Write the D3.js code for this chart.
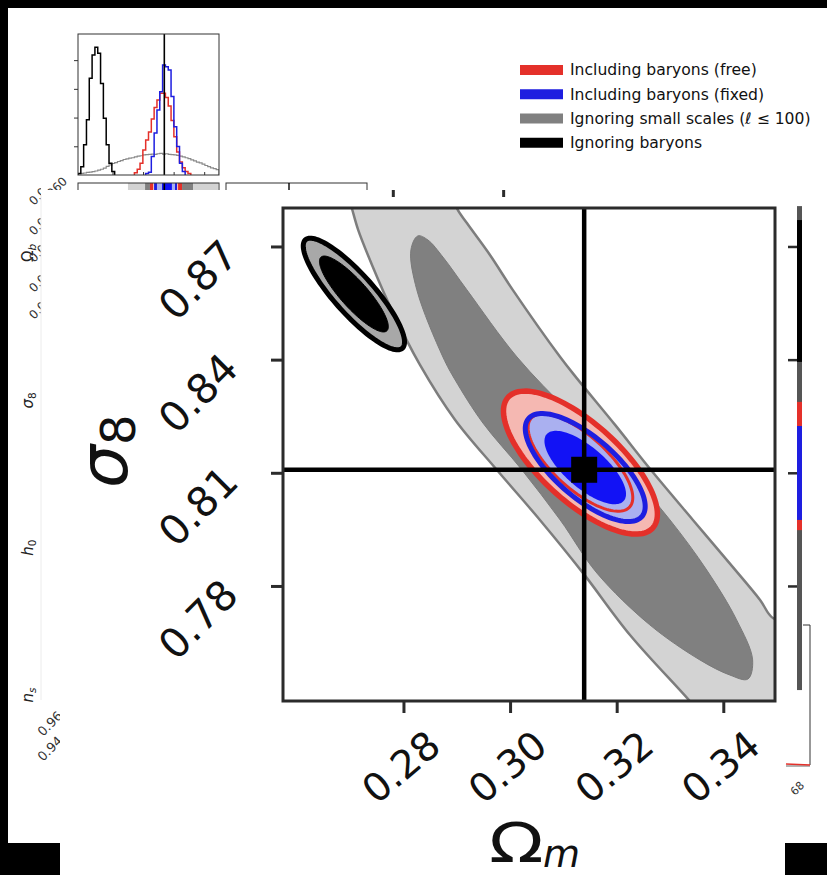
<!DOCTYPE html>
<html><head><meta charset="utf-8">
<script src="https://cdn.jsdelivr.net/npm/d3@7"></script>
<style>
html,body{margin:0;padding:0;background:#000;}
svg{display:block;}
text{font-family:"DejaVu Sans",sans-serif;}
</style></head><body>
<svg id="c" width="827" height="875"></svg>
<script>
// ---------------- data ----------------
const omDomain = [0.2574, 0.3497];
const s8Domain = [0.7495, 0.8802];
const omTicks = [0.28, 0.30, 0.32, 0.34];
const s8Ticks = [0.78, 0.81, 0.84, 0.87];
const truthOm = 0.3139;
const truthS8 = 0.8108;

const legendLabels = ["Including baryons (free)", "Including baryons (fixed)", "Ignoring small scales (\u2113 \u2264 100)", "Ignoring baryons"];
const legendKeys = ["red", "blue", "gray", "black"];

// 1D marginal of Omega_m (top-left panel of the corner plot)
const histBinWidth = 0.001846;
const histDensityMax = 4.91;
const histDensityTicks = [1, 2, 3, 4];
const grayHist = [0.05,0.06,0.07,0.09,0.10,0.12,0.14,0.17,0.20,0.24,0.30,0.35,0.40,0.43,0.47,0.50,0.54,0.56,0.59,0.60,0.63,0.66,0.67,0.70,0.71,0.72,0.73,0.72,0.74,0.75,0.73,0.74,0.72,0.71,0.70,0.68,0.66,0.63,0.60,0.57,0.53,0.49,0.45,0.42,0.38,0.33,0.29,0.25,0.22,0.19];
const blackHist = [0.05,0.29,1.05,1.92,3.37,4.18,4.45,4.24,3.19,1.98,1.05,0.41,0.12];
const blackHistFirstBin = 0;
const redHist = [0.08,0.20,0.41,0.87,1.22,1.50,1.95,2.35,2.61,2.85,2.85,2.70,2.40,1.90,1.33,0.80,0.45,0.25,0.12,0.05];
const redHistFirstBin = 20;
const blueHist = [0.05,0.10,0.64,1.46,2.26,2.90,3.83,3.77,3.66,2.73,1.68,0.99,0.41,0.12];
const blueHistFirstBin = 24;

// top sliver of the Omega_b - Omega_m panel (Omega_m start, end, region)
const omegaBStrip = [[0.2901,0.3013,"gray2"],[0.3013,0.3045,"gray1"],[0.3045,0.3065,"red"],[0.3065,0.3072,"pink"],[0.3072,0.3091,"blue"],[0.3091,0.3124,"lavender"],[0.3124,0.3189,"blue1"],[0.3189,0.3209,"lavender"],[0.3209,0.3222,"blue"],[0.3222,0.3229,"pink"],[0.3229,0.3255,"red"],[0.3255,0.3327,"gray1"],[0.3327,0.3490,"gray2"]];

// Gaussian-like contours: free (red), fixed (blue), ignoring baryons (black)
const ellipseSets = ["free", "fixed", "ignoringBaryons"];
const ellipseCenterOm = [0.3132, 0.3141, 0.2707];
const ellipseCenterS8 = [0.8127, 0.8114, 0.8574];
const ellipseHalfOm = [0.01444, 0.01125, 0.00950];
const ellipseHalfS8 = [0.01896, 0.01432, 0.01480];
const ellipseRho = [-0.72, -0.72, -0.86];
const innerLevelRatio = 0.68;

// "Ignoring small scales" contours (Omega_m, sigma_8)
const smallScales95 = [[0.2690,0.8863],[0.2703,0.8802],[0.2715,0.8744],[0.2741,0.8651],[0.2778,0.8532],[0.2831,0.8386],[0.2897,0.8240],[0.2975,0.8108],[0.3056,0.7975],[0.3137,0.7834],[0.3225,0.7670],[0.3337,0.7495],[0.3375,0.7431],[0.3544,0.7431],[0.3544,0.7697],[0.3493,0.7715],[0.3469,0.7763],[0.3418,0.7850],[0.3343,0.7975],[0.3264,0.8108],[0.3197,0.8227],[0.3125,0.8351],[0.3094,0.8407],[0.3005,0.8585],[0.2962,0.8678],[0.2919,0.8762],[0.2900,0.8802],[0.2887,0.8863]];
const smallScales68 = [[0.2827,0.8728],[0.2814,0.8691],[0.2825,0.8585],[0.2874,0.8407],[0.2897,0.8346],[0.2949,0.8232],[0.3022,0.8108],[0.3094,0.7975],[0.3163,0.7834],[0.3262,0.7697],[0.3356,0.7604],[0.3412,0.7564],[0.3446,0.7553],[0.3455,0.7604],[0.3425,0.7710],[0.3369,0.7842],[0.3300,0.7975],[0.3219,0.8108],[0.3112,0.8259],[0.3013,0.8407],[0.2919,0.8585],[0.2874,0.8672],[0.2846,0.8717]];

// sliver of the neighbouring panel on the right (sigma_8 top, bottom, region)
const rightStrip = [[0.8807,0.7524,"base"],[0.8770,0.8394,"black"],[0.8288,0.8224,"red"],[0.8224,0.7975,"blue"],[0.7975,0.7948,"red"]];
const topNeighbourTicksOm = [0.2780, 0.2987];

const cornerLabelMain = ["\u03A9", "\u03C3", "h", "n"];
const cornerLabelSub = ["b", "8", "0", "s"];
const cornerMainItalic = [false, true, true, true];
const cornerSubItalic = [true, false, false, true];

// ---------------- styles ----------------
const col = {
  red: "#e4302a", pink: "#f5b8b2", blue: "#1e1ee0", lavender: "#aab0f0", blue1: "#1212f5",
  gray: "#808080", gray1: "#808080", gray2: "#d3d3d3", black: "#000", base: "#555",
  grayHist: "#8a8a8a", axis: "#2b2b2b"
};

const svg = d3.select("#c");
svg.append("rect").attr("width", 827).attr("height", 875).attr("fill", "#000");
svg.append("rect").attr("x", 8).attr("y", 8).attr("width", 819).attr("height", 835).attr("fill", "#fff");

const defs = svg.append("defs");
defs.append("clipPath").attr("id", "clipLeftFrag").append("rect").attr("x", 0).attr("y", 0).attr("width", 41).attr("height", 875);
defs.append("clipPath").attr("id", "clipLeftFrag2").append("rect").attr("x", 0).attr("y", 0).attr("width", 60).attr("height", 875);
defs.append("clipPath").attr("id", "clipTopFrag").append("rect").attr("x", 0).attr("y", 0).attr("width", 827).attr("height", 190);

// ============ background corner plot ============
const corner = svg.append("g");
const xTop = d3.scaleLinear().domain(omDomain).range([78, 219]);
const yTop = d3.scaleLinear().domain([0, histDensityMax]).range([175, 34]);

defs.append("clipPath").attr("id", "clipTop").append("rect")
  .attr("x", 78).attr("y", 34).attr("width", 141).attr("height", 141);

function histPoints(vals, firstBin) {
  const pts = [];
  const e = i => omDomain[0] + (firstBin + i) * histBinWidth;
  pts.push([e(0), 0]);
  vals.forEach((v, i) => pts.push([e(i), v]));
  pts.push([e(vals.length), 0]);
  return pts;
}
const stepLine = d3.line().x(d => xTop(d[0])).y(d => yTop(d[1])).curve(d3.curveStepAfter);
const hg = corner.append("g").attr("clip-path", "url(#clipTop)");
hg.append("path").attr("d", stepLine(histPoints(grayHist, 0))).attr("fill", "none").attr("stroke", col.grayHist).attr("stroke-width", 1.2);
hg.append("path").attr("d", stepLine(histPoints(blackHist, blackHistFirstBin))).attr("fill", "none").attr("stroke", "#000").attr("stroke-width", 1.5);
hg.append("path").attr("d", stepLine(histPoints(redHist, redHistFirstBin))).attr("fill", "none").attr("stroke", col.red).attr("stroke-width", 1.5);
hg.append("path").attr("d", stepLine(histPoints(blueHist, blueHistFirstBin))).attr("fill", "none").attr("stroke", col.blue).attr("stroke-width", 1.5);
hg.append("line").attr("x1", xTop(truthOm)).attr("x2", xTop(truthOm)).attr("y1", 34).attr("y2", 175).attr("stroke", "#000").attr("stroke-width", 1.6);
corner.append("rect").attr("x", 78).attr("y", 34).attr("width", 141).attr("height", 141)
  .attr("fill", "none").attr("stroke", "#333").attr("stroke-width", 1);
const topLeftAxis = corner.append("g").attr("transform", "translate(78,0)")
  .call(d3.axisLeft(yTop).tickValues(histDensityTicks).tickSize(4).tickFormat(""));
topLeftAxis.select(".domain").remove();
topLeftAxis.selectAll("line").attr("stroke", "#333");
const topBottomAxis = corner.append("g").attr("transform", "translate(0,175)")
  .call(d3.axisTop(xTop).tickValues(omTicks).tickSize(3).tickFormat(""));
topBottomAxis.select(".domain").remove();
topBottomAxis.selectAll("line").attr("stroke", "#333");

// second row panels (only their top edge is visible)
corner.selectAll("rect.ob").data(omegaBStrip).enter().append("rect")
  .attr("x", d => xTop(d[0])).attr("width", d => xTop(d[1]) - xTop(d[0]))
  .attr("y", 183).attr("height", 10).attr("fill", d => col[d[2]]);
corner.append("line").attr("x1", xTop(truthOm)).attr("x2", xTop(truthOm)).attr("y1", 183).attr("y2", 195).attr("stroke", "#000").attr("stroke-width", 1.6);
corner.append("rect").attr("x", 78).attr("y", 183).attr("width", 141).attr("height", 60).attr("fill", "none").attr("stroke", "#333");
corner.append("rect").attr("x", 226).attr("y", 183).attr("width", 141).attr("height", 60).attr("fill", "none").attr("stroke", "#333");
corner.append("line").attr("x1", 289).attr("x2", 289).attr("y1", 183).attr("y2", 200).attr("stroke", "#000").attr("stroke-width", 1.4);

// left column labels
cornerLabelMain.forEach((m, i) => {
  const t = corner.append("text").attr("transform", `translate(33,${253 + i * 147.3}) rotate(-90)`)
    .attr("text-anchor", "middle").attr("font-size", 15).attr("fill", "#222");
  t.append("tspan").text(m).attr("font-style", cornerMainItalic[i] ? "italic" : "normal");
  t.append("tspan").text(cornerLabelSub[i]).attr("font-size", 10.5).attr("dy", 3)
    .attr("font-style", cornerSubItalic[i] ? "italic" : "normal");
});
// clipped tick label fragments
const fragL = corner.append("g").attr("clip-path", "url(#clipLeftFrag)");
[206, 236, 263, 293, 320].forEach(yy => {
  fragL.append("text").attr("transform", `translate(34,${yy}) rotate(-45)`).attr("font-size", 12).attr("fill", "#333").text("0.05");
});
corner.append("g").attr("clip-path", "url(#clipTopFrag)")
  .append("text").attr("transform", "translate(68,182) rotate(-45)").attr("text-anchor", "end").attr("font-size", 12).attr("fill", "#333").text("0.060");
const fragB = corner.append("g").attr("clip-path", "url(#clipLeftFrag2)");
fragB.append("text").attr("transform", "translate(43,737) rotate(-45)").attr("font-size", 13).attr("fill", "#333").text("0.96");
fragB.append("text").attr("transform", "translate(43,762) rotate(-45)").attr("font-size", 13).attr("fill", "#333").text("0.94");

// bottom-right panel fragment
corner.append("path").attr("d", "M802,625H810V765").attr("fill", "none").attr("stroke", "#333").attr("stroke-width", 1);
corner.append("line").attr("x1", 786).attr("x2", 810).attr("y1", 766).attr("y2", 766).attr("stroke", "#999").attr("stroke-width", 1.5);
corner.append("line").attr("x1", 786).attr("x2", 810).attr("y1", 764).attr("y2", 765).attr("stroke", col.red).attr("stroke-width", 1.5);
corner.append("text").attr("transform", "translate(795,796) rotate(-45)").attr("font-size", 11).attr("fill", "#333").text("68");

// legend
const lg = corner.append("g");
legendLabels.forEach((lab, i) => {
  const cy = 70 + i * 24.25;
  lg.append("rect").attr("x", 520).attr("y", cy - 5).attr("width", 43).attr("height", 10).attr("fill", col[legendKeys[i]]);
  lg.append("text").attr("x", 570).attr("y", cy).attr("dy", "0.35em").attr("font-size", 15.6).attr("fill", "#111").text(lab);
});

// ============ inset (zoomed sigma_8 - Omega_m panel) ============
svg.append("path").attr("d", "M41,190H803V705H785V875H60V705H41Z").attr("fill", "#fff");
svg.append("line").attr("x1", 41).attr("x2", 41).attr("y1", 195).attr("y2", 700).attr("stroke", "#ececec").attr("stroke-width", 1);

const L = 283, R = 775, T = 208, B = 701;
const x = d3.scaleLinear().domain(omDomain).range([L, R]);
const y = d3.scaleLinear().domain(s8Domain).range([B, T]);

defs.append("clipPath").attr("id", "clipMain").append("rect")
  .attr("x", L).attr("y", T).attr("width", R - L).attr("height", B - T);
const P = svg.append("g").attr("clip-path", "url(#clipMain)");
P.append("rect").attr("x", L).attr("y", T).attr("width", R - L).attr("height", B - T).attr("fill", "#fff");

const smooth = d3.line().x(d => x(d[0])).y(d => y(d[1])).curve(d3.curveCatmullRomClosed.alpha(0.5));
P.append("path").attr("d", smooth(smallScales95)).attr("fill", col.gray2).attr("stroke", "#7d7d7d").attr("stroke-width", 2.5);
P.append("path").attr("d", smooth(smallScales68)).attr("fill", col.gray1).attr("stroke", "#7a7a7a").attr("stroke-width", 1);

function ellipsePts(i, ratio) {
  const r = ellipseRho[i], s = Math.sqrt(1 - r * r), pts = [];
  for (let k = 0; k < 120; k++) {
    const t = 2 * Math.PI * k / 120;
    const z1 = ratio * Math.cos(t), z2 = ratio * Math.sin(t);
    pts.push([ellipseCenterOm[i] + ellipseHalfOm[i] * z1, ellipseCenterS8[i] + ellipseHalfS8[i] * (r * z1 + s * z2)]);
  }
  return pts;
}
const closed = d3.line().x(d => x(d[0])).y(d => y(d[1])).curve(d3.curveLinearClosed);

// ignoring baryons (black)
P.append("path").attr("d", closed(ellipsePts(2, 1))).attr("fill", "#a8a8a8").attr("stroke", "#000").attr("stroke-width", 5);
P.append("path").attr("d", closed(ellipsePts(2, innerLevelRatio))).attr("fill", "#000").attr("stroke", "#000").attr("stroke-width", 1);
// fills
P.append("path").attr("d", closed(ellipsePts(0, 1))).attr("fill", col.pink);
P.append("path").attr("d", closed(ellipsePts(1, 1))).attr("fill", col.lavender);
P.append("path").attr("d", closed(ellipsePts(1, innerLevelRatio))).attr("fill", col.blue1);
// lines
P.append("path").attr("d", closed(ellipsePts(0, 1))).attr("fill", "none").attr("stroke", col.red).attr("stroke-width", 5.5);
P.append("path").attr("d", closed(ellipsePts(0, innerLevelRatio))).attr("fill", "none").attr("stroke", col.red).attr("stroke-width", 3);
P.append("path").attr("d", closed(ellipsePts(1, 1))).attr("fill", "none").attr("stroke", col.blue).attr("stroke-width", 5);

// truth lines + marker
P.append("line").attr("x1", x(truthOm)).attr("x2", x(truthOm)).attr("y1", T).attr("y2", B).attr("stroke", "#000").attr("stroke-width", 4.5);
P.append("line").attr("x1", L).attr("x2", R).attr("y1", y(truthS8)).attr("y2", y(truthS8)).attr("stroke", "#000").attr("stroke-width", 4.5);
P.append("rect").attr("x", x(truthOm) - 13).attr("y", y(truthS8) - 13).attr("width", 26).attr("height", 26).attr("fill", "#000");

svg.append("rect").attr("x", L).attr("y", T).attr("width", R - L).attr("height", B - T)
  .attr("fill", "none").attr("stroke", col.axis).attr("stroke-width", 3);

// axes
const yAx = svg.append("g").attr("transform", `translate(${L},0)`)
  .call(d3.axisLeft(y).tickValues(s8Ticks).tickSize(12).tickFormat(d3.format(".2f")));
yAx.select(".domain").remove();
yAx.selectAll("line").attr("stroke", col.axis).attr("stroke-width", 3);
yAx.selectAll("text").attr("x", 0).attr("y", 0).attr("dy", "0.35em").attr("text-anchor", "middle")
  .attr("transform", "translate(-85,33) rotate(-45)").attr("font-size", 41).attr("fill", "#111")
  .style("font-family", "'DejaVu Sans'");

const xAx = svg.append("g").attr("transform", `translate(0,${B})`)
  .call(d3.axisBottom(x).tickValues(omTicks).tickSize(12).tickFormat(d3.format(".2f")));
xAx.select(".domain").remove();
xAx.selectAll("line").attr("stroke", col.axis).attr("stroke-width", 3);
xAx.selectAll("text").attr("x", 0).attr("y", 0).attr("dy", "0.35em").attr("text-anchor", "middle")
  .attr("transform", "translate(-3,66) rotate(-40)").attr("font-size", 39).attr("fill", "#111")
  .style("font-family", "'DejaVu Sans'");

const topAx = svg.append("g").attr("transform", "translate(0,197)")
  .call(d3.axisTop(x).tickValues(topNeighbourTicksOm).tickSize(7).tickFormat(""));
topAx.select(".domain").remove();
topAx.selectAll("line").attr("stroke", col.axis).attr("stroke-width", 3);

// right neighbour sliver
svg.selectAll("rect.rs").data(rightStrip).enter().append("rect")
  .attr("x", 797).attr("width", 5)
  .attr("y", d => y(d[0])).attr("height", d => y(d[1]) - y(d[0]))
  .attr("fill", d => col[d[2]]);
const rAx = svg.append("g").attr("transform", "translate(797,0)")
  .call(d3.axisLeft(y).tickValues(s8Ticks).tickSize(9).tickFormat(""));
rAx.select(".domain").remove();
rAx.selectAll("line").attr("stroke", col.axis).attr("stroke-width", 2.5);

// axis labels
const yl = svg.append("text").attr("transform", "translate(127,488) rotate(-90)").attr("font-size", 68).attr("fill", "#111");
yl.append("tspan").attr("font-style", "italic").text("\u03C3");
yl.append("tspan").attr("font-size", 48).attr("dy", 8).text("8");

svg.append("text").attr("transform", "translate(489,862) scale(1.3,1)").attr("font-size", 55).attr("fill", "#111").text("\u03A9");
svg.append("text").attr("x", 543).attr("y", 867).attr("font-size", 38).attr("font-style", "italic").attr("fill", "#111").text("m");
</script>
</body></html>
